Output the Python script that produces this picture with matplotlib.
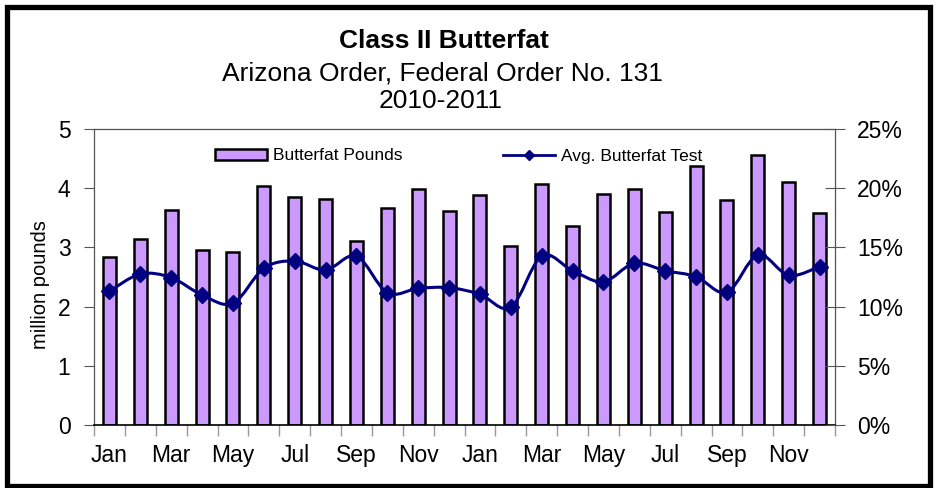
import matplotlib
matplotlib.use("Agg")
import matplotlib.pyplot as plt
from matplotlib.patches import Rectangle, Patch
from matplotlib.lines import Line2D
from matplotlib.path import Path
from matplotlib.patches import PathPatch
from matplotlib.ticker import FuncFormatter, FixedLocator, NullFormatter
import numpy as np

plt.rcParams['font.family'] = ['Liberation Sans', 'DejaVu Sans']

months = ["Jan", "Feb", "Mar", "Apr", "May", "Jun", "Jul", "Aug", "Sep", "Oct", "Nov", "Dec"] * 2
pounds = [2.83, 3.15, 3.64, 2.95, 2.93, 4.04, 3.85, 3.81, 3.10, 3.67, 3.98, 3.61,
          3.89, 3.02, 4.07, 3.36, 3.91, 3.99, 3.60, 4.38, 3.80, 4.56, 4.10, 3.58]
test_pct = [11.3, 12.75, 12.45, 10.98, 10.28, 13.23, 13.85, 13.09, 14.27, 11.18, 11.54, 11.6,
            11.04, 9.94, 14.27, 13.03, 12.1, 13.66, 13.03, 12.53, 11.2, 14.36, 12.64, 13.37]

title = "Class II Butterfat"
subtitle1 = "Arizona Order, Federal Order No. 131"
subtitle2 = "2010-2011"

W, H = 936, 488
fig = plt.figure(figsize=(W / 100, H / 100), dpi=100)
ax = fig.add_axes([94 / W, (H - 425) / H, 741 / W, 296 / H])

x = np.arange(len(pounds))
bar_color = "#CC99FF"
line_color = "#000080"

ax.bar(x, pounds, width=0.42, color=bar_color, edgecolor="black", linewidth=1.8, zorder=2)
ax.set_xlim(-0.5, len(pounds) - 0.5)
ax.set_ylim(0, 5)
ax.set_yticks([0, 1, 2, 3, 4, 5])
ax.tick_params(axis='y', direction='out', length=7, width=0.8, color='#555555', labelsize=16.5, pad=10)

# x ticks: boundaries (gray), labels every other month at centers
ax.xaxis.set_major_locator(FixedLocator(list(np.arange(-0.5, len(pounds), 1.0))))
ax.xaxis.set_major_formatter(NullFormatter())
ax.xaxis.set_minor_locator(FixedLocator(list(x[::2])))
ax.set_xticklabels([months[i] for i in x[::2]], minor=True)
ax.tick_params(axis='x', which='major', direction='out', length=8, width=1.0, color='#999999')
ax.tick_params(axis='x', which='minor', length=0, labelsize=16.5, pad=14)

for s in ['left', 'right', 'top']:
    ax.spines[s].set_color('#555555')
    ax.spines[s].set_linewidth(0.9)
ax.spines['bottom'].set_color('black')
ax.spines['bottom'].set_linewidth(1.2)

ax2 = ax.twinx()
ax2.set_ylim(0, 25)
ax2.set_yticks([0, 5, 10, 15, 20, 25])
ax2.yaxis.set_major_formatter(FuncFormatter(lambda v, p: f"{int(v)}%"))
ax2.tick_params(axis='y', direction='inout', length=14, width=0.8, color='#555555', labelsize=16.5, pad=9)
for s in ax2.spines.values():
    s.set_visible(False)

# smoothed line (Bezier through data points)
pts = np.column_stack([x, test_pct]).astype(float)
verts = [tuple(pts[0])]
codes = [Path.MOVETO]
n = len(pts)
for i in range(n - 1):
    p0 = pts[i - 1] if i > 0 else pts[i]
    p1 = pts[i]
    p2 = pts[i + 1]
    p3 = pts[i + 2] if i + 2 < n else pts[i + 1]
    c1 = p1 + (p2 - p0) / 6.0
    c2 = p2 - (p3 - p1) / 6.0
    verts += [tuple(c1), tuple(c2), tuple(p2)]
    codes += [Path.CURVE4] * 3
ax2.add_patch(PathPatch(Path(verts, codes), facecolor='none', edgecolor=line_color, linewidth=2.2, zorder=3))
ax2.plot(x, test_pct, linestyle='none', marker='D', markersize=8.5, color=line_color, zorder=4)

# legends
h1 = Patch(facecolor=bar_color, edgecolor='black', linewidth=1.8)
leg1 = fig.legend([h1], ["Butterfat Pounds"], loc='center left',
                  bbox_to_anchor=(215 / W, 1 - 156 / H), frameon=False, fontsize=12.5,
                  borderpad=0, borderaxespad=0, handlelength=3.0, handleheight=0.55, handletextpad=0.35)
h2 = Line2D([], [], color=line_color, linewidth=2.0, marker='D', markersize=5.5)
leg2 = fig.legend([h2], ["Avg. Butterfat Test"], loc='center left',
                  bbox_to_anchor=(503 / W, 1 - 156 / H), frameon=False, fontsize=12.5,
                  borderpad=0, borderaxespad=0, handlelength=3.0, handletextpad=0.35)

# y label
fig.text(40 / W, 1 - 285 / H, "million pounds", rotation=90, ha='center', va='center', fontsize=14.5)

# titles
fig.text(444 / W, 1 - 48 / H, title, ha='center', va='baseline', fontsize=19, fontweight='bold')
fig.text(442 / W, 1 - 80 / H, subtitle1, ha='center', va='baseline', fontsize=19)
fig.text(441 / W, 1 - 108 / H, subtitle2, ha='center', va='baseline', fontsize=19)

# border
fig.patches.append(Rectangle((6.5 / W, 2.5 / H), 923 / W, 479 / H, transform=fig.transFigure,
                             fill=False, edgecolor='black', linewidth=3.8))

fig.savefig("out.png", dpi=100)
